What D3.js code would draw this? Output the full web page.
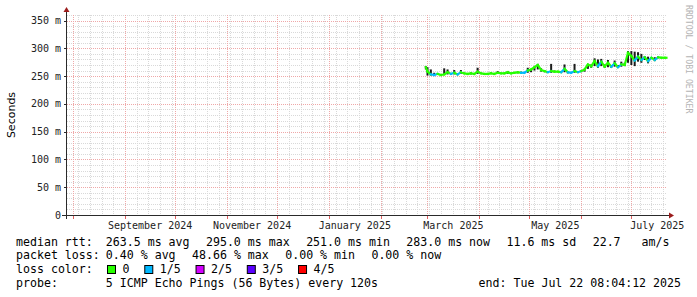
<!DOCTYPE html>
<html>
<head>
<meta charset="utf-8">
<script src="https://cdn.jsdelivr.net/npm/d3@7"></script>
<style>
	body { margin: 0; background: #fff; }
	text { font-family: "DejaVu Sans Mono", monospace; fill: #000; white-space: pre; }
</style>
</head>
<body>
<svg id="chart" width="697" height="297"></svg>
<script>
// sample dates (2 day steps) and median rtt in ms
var dates = ['2025-02-28', '2025-03-01', '2025-03-03', '2025-03-05', '2025-03-07', '2025-03-09', '2025-03-11', '2025-03-13',
	'2025-03-15', '2025-03-17', '2025-03-19', '2025-03-21', '2025-03-23', '2025-03-25', '2025-03-27', '2025-03-29',
	'2025-03-31', '2025-04-02', '2025-04-04', '2025-04-06', '2025-04-08', '2025-04-10', '2025-04-12', '2025-04-14',
	'2025-04-16', '2025-04-18', '2025-04-20', '2025-04-22', '2025-04-24', '2025-04-26', '2025-04-28', '2025-04-30',
	'2025-05-02', '2025-05-04', '2025-05-06', '2025-05-08', '2025-05-10', '2025-05-12', '2025-05-14', '2025-05-16',
	'2025-05-18', '2025-05-20', '2025-05-22', '2025-05-24', '2025-05-26', '2025-05-28', '2025-05-30', '2025-06-01',
	'2025-06-03', '2025-06-05', '2025-06-07', '2025-06-09', '2025-06-11', '2025-06-13', '2025-06-15', '2025-06-17',
	'2025-06-19', '2025-06-21', '2025-06-23', '2025-06-25', '2025-06-27', '2025-06-29', '2025-07-01', '2025-07-03',
	'2025-07-05', '2025-07-07', '2025-07-09', '2025-07-11', '2025-07-13', '2025-07-15', '2025-07-17', '2025-07-19',
	'2025-07-21', '2025-07-22'];
var median = [266, 258, 253, 252, 254, 252, 253, 257, 254, 256, 253, 257, 255, 254, 255, 254,
	258, 255, 254, 254, 255, 254, 256, 255, 255, 257, 255, 256, 257, 256, 256, 260,
	262, 266, 270, 261, 259, 257, 259, 258, 258, 257, 263, 257, 256, 259, 257, 259,
	262, 271, 268, 277, 268, 276, 267, 274, 267, 273, 266, 271, 270, 292, 286, 278,
	285, 279, 284, 277, 283, 279, 284, 283, 283, 283];
var smokeLo = [262, 251, 251, 251, 252, 251, 252, 253, 253, 253, 252, 254, 254, 253, 253, 253,
	254, 254, 253, 253, 254, 253, 254, 254, 254, 254, 254, 255, 255, 255, 255, 256,
	257, 260, 262, 258, 257, 256, 256, 257, 257, 256, 257, 255, 255, 256, 256, 257,
	258, 263, 265, 268, 265, 268, 265, 266, 265, 267, 265, 267, 268, 274, 270, 268,
	276, 274, 279, 273, 281, 277, 282, 282, 282, 282];
var smokeHi = [268, 266, 262, 256, 255, 253, 264, 262, 255, 261, 255, 261, 256, 255, 256, 255,
	265, 256, 255, 255, 256, 255, 259, 256, 256, 259, 256, 257, 258, 258, 257, 265,
	263, 267, 272, 264, 260, 259, 272, 260, 259, 259, 271, 258, 257, 272, 259, 260,
	263, 272, 271, 282, 280, 281, 271, 279, 270, 278, 270, 276, 274, 295, 295, 294,
	293, 290, 286, 285, 284, 284, 285, 284, 284, 284];
// lost pings out of 5
var loss = [0, 0, 1, 1, 0, 0, 0, 0, 1, 0, 1, 0, 0, 0, 0, 0,
	0, 0, 0, 0, 0, 0, 0, 0, 0, 0, 0, 0, 0, 1, 1, 0,
	0, 0, 0, 0, 0, 1, 0, 0, 0, 1, 0, 1, 1, 0, 1, 0,
	0, 0, 0, 0, 1, 0, 0, 0, 1, 0, 1, 0, 0, 0, 0, 1,
	0, 1, 0, 1, 0, 1, 0, 0, 0, 0];

var yTicks = [0, 50, 100, 150, 200, 250, 300, 350];
var lossLabels = ['0', '1/5', '2/5', '3/5', '4/5'];
var lossColors = ['#26ff00', '#00b8ff', '#d200ff', '#5a00ff', '#ff0000'];
var rttLegend = ['263.5 ms avg', '295.0 ms max', '251.0 ms min', '283.0 ms now', '11.6 ms sd', '22.7   am/s'];
var lossLegend = ['0.40 % avg', '48.66 % max', '0.00 % min', '0.00 % now'];
var probeText = '5 ICMP Echo Pings (56 Bytes) every 120s';
var endText = 'end: Tue Jul 22 08:04:12 2025';

(function () {
	var svg = d3.select('#chart');
	var left = 67, right = 667, top = 15, bottom = 215;
	var parse = d3.utcParse('%Y-%m-%d');
	var start = new Date(Date.UTC(2024, 6, 28, 6, 0)),
		end = new Date(Date.UTC(2025, 6, 22, 8, 4, 12));

	var x = d3.scaleUtc().domain([start, end]).range([left, right]);
	var y = d3.scaleLinear().domain([0, 360]).range([bottom, top]);

	var data = dates.map(function (d, i) {
		return {t: parse(d), m: median[i], lo: smokeLo[i], hi: smokeHi[i], loss: loss[i]};
	});

	var minor = '#d9d9d9', major = '#efa8a8';
	var grid = svg.append('g');
	// minor grid
	grid.selectAll('.hmin').data(d3.range(10, 361, 10))
		.enter().append('line')
		.attr('x1', left).attr('x2', right)
		.attr('y1', function (d) { return Math.round(y(d)) + 0.5; })
		.attr('y2', function (d) { return Math.round(y(d)) + 0.5; })
		.attr('stroke', minor).attr('stroke-dasharray', '1,1');
	grid.selectAll('.vmin').data(d3.utcSunday.range(start, end))
		.enter().append('line')
		.attr('x1', function (d) { return Math.round(x(d)) + 0.5; })
		.attr('x2', function (d) { return Math.round(x(d)) + 0.5; })
		.attr('y1', top).attr('y2', bottom)
		.attr('stroke', minor).attr('stroke-dasharray', '1,1');
	// major grid
	grid.selectAll('.hmaj').data(yTicks.slice(1))
		.enter().append('line')
		.attr('x1', left).attr('x2', right)
		.attr('y1', function (d) { return Math.round(y(d)) + 0.5; })
		.attr('y2', function (d) { return Math.round(y(d)) + 0.5; })
		.attr('stroke', major).attr('stroke-dasharray', '1,1');
	var months = d3.utcMonth.range(start, end);
	grid.selectAll('.vmaj').data(months)
		.enter().append('line')
		.attr('x1', function (d) { return Math.round(x(d)) + 0.5; })
		.attr('x2', function (d) { return Math.round(x(d)) + 0.5; })
		.attr('y1', top).attr('y2', bottom)
		.attr('stroke', major).attr('stroke-dasharray', '1,1');

	// smoke
	svg.append('g').selectAll('rect').data(data.filter(function (d) { return d.hi - d.lo > 2; }))
		.enter().append('rect')
		.attr('x', function (d) { return x(d.t) - 1; })
		.attr('width', 2)
		.attr('y', function (d) { return y(d.hi); })
		.attr('height', function (d) { return y(d.lo) - y(d.hi); })
		.attr('fill', '#1c1c1c');

	// median line, coloured by loss
	svg.append('g').selectAll('path').data(data.slice(0, -1))
		.enter().append('path')
		.attr('d', function (d, i) {
			var n = data[i + 1];
			return 'M' + x(d.t) + ',' + y(d.m) + 'L' + x(n.t) + ',' + y(n.m);
		})
		.attr('fill', 'none')
		.attr('stroke-width', 2.2)
		.attr('stroke-linecap', 'square')
		.attr('stroke', function (d) { return lossColors[d.loss]; });

	// axes
	var axisColor = '#2a2a2a', arrowColor = '#9b1c1c';
	svg.append('line').attr('x1', left - 5).attr('x2', right + 3)
		.attr('y1', bottom + 0.5).attr('y2', bottom + 0.5)
		.attr('stroke', axisColor);
	svg.append('line').attr('x1', left - 0.5).attr('x2', left - 0.5)
		.attr('y1', bottom + 4).attr('y2', top - 4)
		.attr('stroke', axisColor);
	svg.append('path').attr('d', 'M' + (right + 2) + ',' + (bottom - 2.5) + 'L' + (right + 7) + ',' + (bottom + 0.5) + 'L' + (right + 2) + ',' + (bottom + 3.5) + 'Z')
		.attr('fill', arrowColor);
	svg.append('path').attr('d', 'M' + (left - 3.5) + ',' + (top - 3) + 'L' + (left - 0.5) + ',' + (top - 8) + 'L' + (left + 2.5) + ',' + (top - 3) + 'Z')
		.attr('fill', arrowColor);

	// ticks
	svg.append('g').selectAll('line').data(months)
		.enter().append('line')
		.attr('x1', function (d) { return Math.round(x(d)) + 0.5; })
		.attr('x2', function (d) { return Math.round(x(d)) + 0.5; })
		.attr('y1', bottom + 1).attr('y2', bottom + 4)
		.attr('stroke', '#e06060');
	svg.append('g').selectAll('line').data(yTicks)
		.enter().append('line')
		.attr('x1', left - 3).attr('x2', left)
		.attr('y1', function (d) { return Math.round(y(d)) + 0.5; })
		.attr('y2', function (d) { return Math.round(y(d)) + 0.5; })
		.attr('stroke', axisColor);

	// y labels
	svg.append('g').selectAll('text').data(yTicks)
		.enter().append('text')
		.attr('x', 61)
		.attr('y', function (d) { return y(d) + 3.5; })
		.attr('text-anchor', 'end')
		.style('font-size', '10px')
		.style('fill', '#222')
		.text(function (d) { return d === 0 ? '0' : d + ' m'; });

	// x labels, centred in every second month
	var labelMonths = [new Date(Date.UTC(2024, 8, 1)), new Date(Date.UTC(2024, 10, 1)), new Date(Date.UTC(2025, 0, 1)),
		new Date(Date.UTC(2025, 2, 1)), new Date(Date.UTC(2025, 4, 1)), new Date(Date.UTC(2025, 6, 1))];
	svg.append('g').selectAll('text').data(labelMonths)
		.enter().append('text')
		.attr('x', function (d) { return (x(d) + x(d3.utcMonth.offset(d, 1))) / 2; })
		.attr('y', 228.5)
		.attr('text-anchor', 'middle')
		.style('font-size', '10px')
		.style('fill', '#222')
		.text(d3.utcFormat('%B %Y'));

	svg.append('text')
		.attr('transform', 'translate(15,' + ((top + bottom) / 2) + ') rotate(-90)')
		.attr('text-anchor', 'middle')
		.style('font-family', '"DejaVu Sans", sans-serif')
		.style('font-size', '11px')
		.text('Seconds');

	svg.append('text')
		.attr('transform', 'translate(686,5) rotate(90)')
		.style('font-size', '8.2px')
		.style('fill', '#b4b4b4')
		.text('RRDTOOL / TOBI OETIKER');

	// legend
	var fs = '11.6px', col = 105.8, gap = 16.4;
	function row(label, items, yy) {
		svg.append('text').attr('x', 16).attr('y', yy).style('font-size', fs).text(label);
		var xx = col;
		items.forEach(function (s) {
			var t = svg.append('text').attr('x', xx).attr('y', yy).style('font-size', fs).text(s);
			xx += t.node().getComputedTextLength() + gap;
		});
	}
	row('median rtt:', rttLegend, 245.5);
	row('packet loss:', lossLegend, 259.3);

	svg.append('text').attr('x', 16).attr('y', 273.3).style('font-size', fs).text('loss color:');
	var bx = 107;
	lossLabels.forEach(function (l, i) {
		svg.append('rect').attr('x', bx + 0.5).attr('y', 265.5).attr('width', 8).attr('height', 8)
			.attr('fill', lossColors[i]).attr('stroke', '#000');
		var t = svg.append('text').attr('x', bx + 15.5).attr('y', 273.3).style('font-size', fs).text(l);
		bx += 15.5 + t.node().getComputedTextLength() + 14.8;
	});

	svg.append('text').attr('x', 16).attr('y', 287.3).style('font-size', fs).text('probe:');
	svg.append('text').attr('x', col).attr('y', 287.3).style('font-size', fs).text(probeText);
	svg.append('text').attr('x', 681).attr('y', 287.3).attr('text-anchor', 'end').style('font-size', fs).text(endText);
}());
</script>
</body>
</html>
